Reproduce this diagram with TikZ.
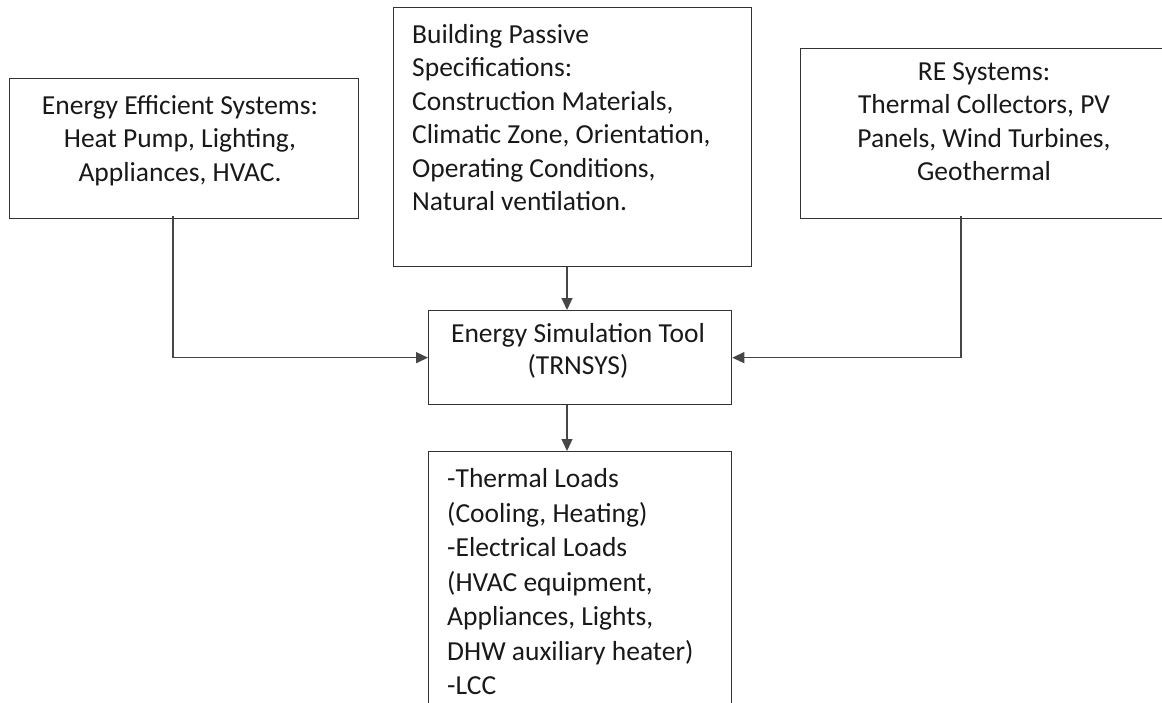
\documentclass[tikz,border=0pt]{standalone}
\usepackage{fontspec}
\setmainfont{Carlito}
\usetikzlibrary{arrows.meta,calc}
\definecolor{edge}{RGB}{50,50,50}
\definecolor{conn}{RGB}{70,70,70}
\definecolor{ink}{RGB}{25,25,25}
\begin{document}
\begin{tikzpicture}[x=1pt,y=-1pt,
  boxnode/.style={draw=edge,line width=1.3pt,inner sep=0pt,anchor=north west,fill=none},
  txt/.style={inner sep=0pt,text=ink,font={\fontsize{27.5}{33.5}\selectfont}},
  connline/.style={draw=conn,line width=1.3pt,-{Triangle[length=12pt,width=11pt]}}]
\useasboundingbox (0,0) rectangle (1162,702);
% boxes
\node[boxnode,minimum width=349pt,minimum height=140pt] (L) at (9,78) {};
\node[boxnode,minimum width=358pt,minimum height=259pt] (M) at (393,7) {};
\node[boxnode,minimum width=375pt,minimum height=170pt] (R) at (800,48) {};
\node[boxnode,minimum width=303pt,minimum height=94pt] (C) at (428,310) {};
\node[boxnode,minimum width=303pt,minimum height=269pt] (B) at (428,451) {};
% texts
\node[txt,anchor=north,align=center] (Lt) at (180,90.5) {\strut Energy Efficient Systems:\\\strut Heat Pump, Lighting,\\\strut Appliances, HVAC.};
\node[txt,anchor=north west,align=left] (Mt) at (412,19.5) {\strut Building Passive\\\strut Specifications:\\\strut Construction Materials,\\\strut Climatic Zone, Orientation,\\\strut Operating Conditions,\\\strut Natural ventilation.};
\node[txt,anchor=north,align=center] (Rt) at (984,56.5) {\strut RE Systems:\\\strut Thermal Collectors, PV\\\strut Panels, Wind Turbines,\\\strut Geothermal};
\node[txt,anchor=north,align=center,font={\fontsize{27.5}{32}\selectfont}] (Ct) at (578,319.5) {\strut Energy Simulation Tool\\\strut (TRNSYS)};
\node[txt,anchor=north west,align=left,font={\fontsize{27.5}{34.5}\selectfont}] (Bt) at (447,463.5) {\strut -Thermal Loads\\\strut (Cooling, Heating)\\\strut -Electrical Loads\\\strut (HVAC equipment,\\\strut Appliances, Lights,\\\strut DHW auxiliary heater)\\\strut -LCC};
% connector anchors
\coordinate (lt) at (173,216);
\coordinate (rt) at (961,216);
\coordinate (mx) at (567,0);
% connectors
\draw[connline] (lt) |- (C.west);
\draw[connline] (rt) |- (C.east);
\draw[connline] (M.south -| mx) -- (C.north -| mx);
\draw[connline] (C.south -| mx) -- (B.north -| mx);
\end{tikzpicture}
\end{document}
